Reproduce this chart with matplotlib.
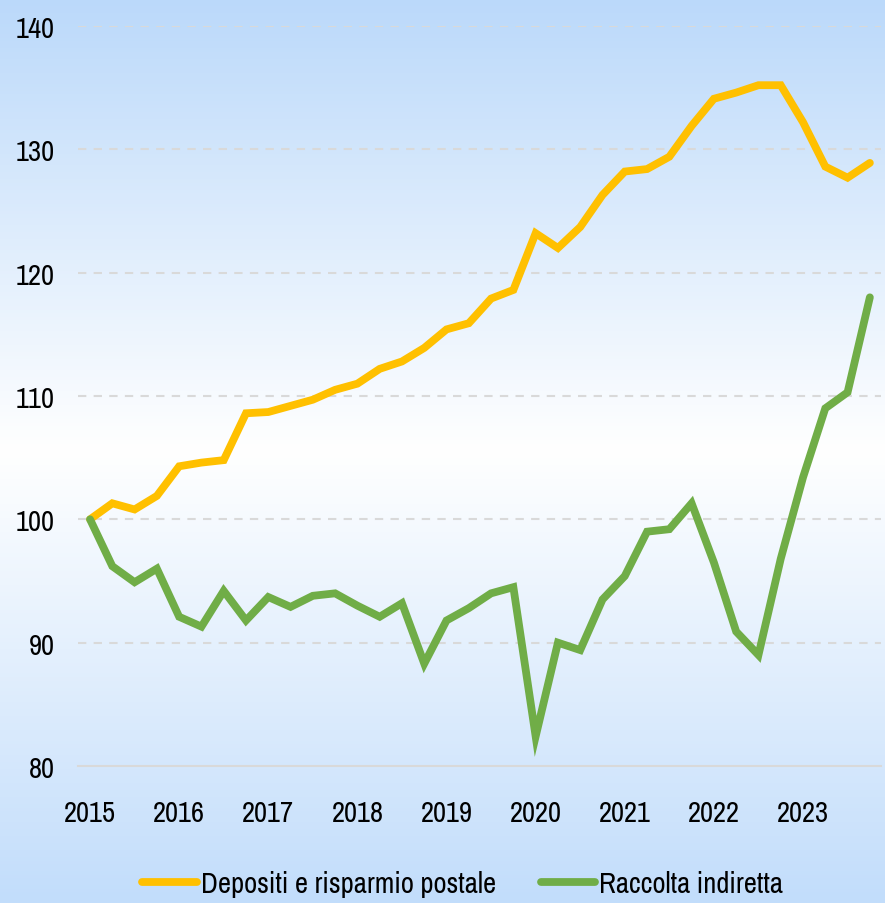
import numpy as np
import matplotlib
matplotlib.use("Agg")
import matplotlib.pyplot as plt
from matplotlib.colors import LinearSegmentedColormap

# quarterly index, 2015 Q1 = 100
years = ["2015", "2016", "2017", "2018", "2019", "2020", "2021", "2022", "2023"]
depositi = [100.0, 101.3, 100.8, 101.9, 104.3, 104.6, 104.8, 108.6,
            108.7, 109.2, 109.7, 110.5, 111.0, 112.2, 112.8, 113.9,
            115.4, 115.9, 117.9, 118.6, 123.2, 122.0, 123.7, 126.3,
            128.2, 128.4, 129.4, 131.9, 134.1, 134.6, 135.2, 135.2,
            132.2, 128.6, 127.7, 128.9]
raccolta = [100.0, 96.2, 94.9, 96.0, 92.1, 91.3, 94.2, 91.8,
            93.7, 92.9, 93.8, 94.0, 93.0, 92.1, 93.2, 88.3,
            91.8, 92.8, 94.0, 94.5, 82.4, 90.0, 89.4, 93.5,
            95.4, 99.0, 99.2, 101.3, 96.5, 90.9, 89.0, 96.8,
            103.4, 109.0, 110.3, 118.0]
labels = ["Depositi e risparmio postale", "Raccolta indiretta"]

plt.rcParams["font.family"] = ["Archivo Narrow", "Carlito", "DejaVu Sans"]
FS = 20.6

fig = plt.figure(figsize=(8.85, 9.04), dpi=100)

# background gradient: blue top -> white middle -> blue bottom
bg = fig.add_axes([0, 0, 1, 1], zorder=-10)
cmap = LinearSegmentedColormap.from_list(
    "bg", [(0.0, "#bbd9fa"), (0.5, "#ffffff"), (1.0, "#c2ddfb")])
bg.imshow(np.linspace(0, 1, 256).reshape(-1, 1), aspect="auto", cmap=cmap,
          extent=[0, 1, 0, 1], origin="upper")
bg.axis("off")

ax = fig.add_axes([78 / 885, 1 - 767 / 904, (881 - 78) / 885, (767 - 27) / 904])
ax.patch.set_alpha(0)

x = np.arange(len(depositi))
ax.plot(x, depositi, color="#FFC000", lw=5.6, solid_joinstyle="miter",
        solid_capstyle="round", label=labels[0], zorder=3)
ax.plot(x, raccolta, color="#70AD47", lw=5.6, solid_joinstyle="miter",
        solid_capstyle="round", label=labels[1], zorder=4)

ax.set_xlim(-0.54, 35.5)
ax.set_ylim(80, 140)
ax.set_yticks(range(80, 141, 10))
ax.set_xticks(np.arange(0, 36, 4))
ax.set_xticklabels(years)
ax.tick_params(axis="both", length=0, labelsize=FS, colors="black")
ax.tick_params(axis="y", pad=17)
ax.tick_params(axis="x", pad=24)

for v in range(90, 141, 10):
    ax.axhline(v, color="#d9d9d9", lw=1.5, ls=(0, (4, 3.5)), zorder=1)
for s in ["top", "right", "left"]:
    ax.spines[s].set_visible(False)
ax.spines["bottom"].set_color("#d9d9d9")
ax.spines["bottom"].set_linewidth(1.5)

fig.legend(loc="center", bbox_to_anchor=(0.523, 0.022), ncol=2, frameon=False,
           fontsize=FS, handlelength=1.9, handletextpad=0.15,
           columnspacing=1.55, borderpad=0, borderaxespad=0)

fig.savefig("out.png", dpi=100)
